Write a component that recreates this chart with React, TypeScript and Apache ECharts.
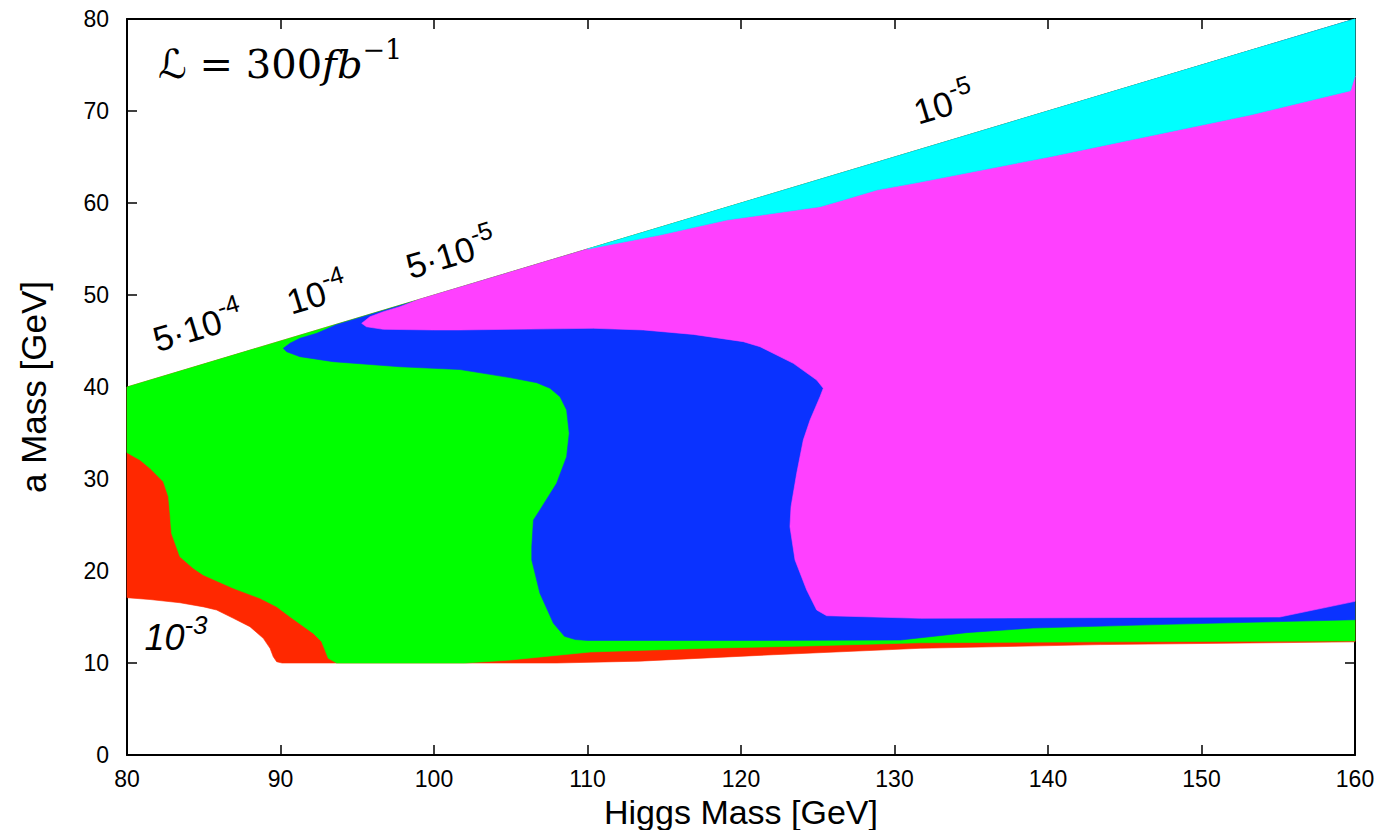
import React, { useEffect, useRef } from "react";
import * as echarts from "echarts";

type P = [number, number];

// Axis ranges / ticks
const xRange: P = [80, 160];
const yRange: P = [0, 80];
const tickStep = 10;

// Kinematic limit m_a = m_h / 2 (upper edge of every region)
const kinLimit: P[] = [[80, 40], [110, 55], [160, 80]];

// 10^-3 (red) region: lower boundary, left -> right
const redLower: P[] = [
  [80, 17.1], [81.5, 16.9], [83.45, 16.55], [85, 16.1], [85.84, 15.76], [86.93, 14.86],
  [88.01, 13.95], [88.88, 12.68], [89.32, 11.59], [89.53, 10.68], [89.75, 10.14], [90.1, 10.0],
  [100, 10.0], [108, 10.0], [113.4, 10.2], [122.1, 10.9], [131.7, 11.6], [143.4, 12.0], [160, 12.3],
];

// 5·10^-4 (green) region: left boundary top -> bottom, then bottom boundary left -> right
const greenLeft: P[] = [
  [80, 32.86], [80.85, 32.07], [81.5, 31.16], [82.37, 29.7], [82.7, 28.08], [82.8, 26.27],
  [82.9, 24.1], [83.45, 21.56], [84.32, 20.29], [84.97, 19.57], [86.93, 18.12], [88.67, 17.03],
  [89.75, 16.12], [90.62, 15.03], [92.14, 13.22], [92.68, 12.32], [92.9, 11.41], [93.11, 10.51],
  [93.66, 10.0],
];
const greenBottom: P[] = [
  [102, 10.0], [104.8, 10.3], [110.2, 11.2], [117.8, 11.6], [124.3, 11.85], [131.7, 12.2],
  [143.4, 12.3], [160, 12.4],
];

// 10^-4 (blue) region: tip -> kinematic limit, then bottom boundary right -> left
const blueTip: P[] = [[90.18, 44.2], [90.62, 44.75], [91.27, 45.29], [92.36, 45.83], [93.6, 46.75]];
const blueBottom: P[] = [
  [160, 14.7], [147.7, 14.2], [139, 13.8], [134.7, 13.3], [130.4, 12.5], [120, 12.45], [110, 12.45],
  [109.2, 12.55], [108.5, 12.9], [107.78, 14.31], [106.9, 17.58], [106.37, 21.2], [106.37, 22.64],
  [106.48, 25.54], [106.9, 26.63], [107.99, 29.53], [108.64, 32.42], [108.81, 34.96], [108.64, 37.5],
  [108.21, 38.95], [107.56, 39.86], [106.69, 40.47], [104.95, 41.02], [101.69, 41.9], [97.78, 42.2],
  [93.44, 42.75], [91.27, 43.3], [90.4, 43.84],
];

// 5·10^-5 (magenta) region
const magentaTip: P[] = [[95.29, 46.92], [95.83, 47.64], [96.7, 48.18], [97.78, 48.73], [99, 49.5]];
const magentaUpper: P[] = [
  [110, 55], [114.72, 56.52], [119.07, 58.15], [125.15, 59.6], [126.67, 60.33], [128.84, 61.41],
  [131.6, 62.25], [140.15, 65.04], [153.18, 69.57], [159.7, 72.2], [160, 73.8],
];
const magentaLower: P[] = [
  [160, 16.7], [155.1, 15.0], [131.7, 14.86], [125.58, 15.14], [124.93, 15.76], [124.28, 17.93],
  [123.52, 21.2], [123.19, 24.82], [123.26, 26.99], [123.63, 30.62], [124.06, 34.24], [124.5, 36.41],
  [125.15, 38.95], [125.36, 39.86], [124.93, 40.76], [123.41, 42.57], [121.24, 44.38], [120.15, 44.93],
  [116.89, 45.72], [113.64, 46.2], [110.38, 46.38], [101.69, 46.2], [99.96, 46.2], [96.7, 46.27],
  [95.6, 46.55],
];

const colors = {
  red: "#ff2800",
  green: "#00ff00",
  blue: "#0a32ff",
  magenta: "#ff40ff",
  cyan: "#00ffff",
};

const top = kinLimit[kinLimit.length - 1];
const leftTop = kinLimit[0];

const redPoly: P[] = [...redLower, top, leftTop];
const greenPoly: P[] = [leftTop, top, ...greenBottom.slice().reverse(), ...greenLeft.slice().reverse()];
const bluePoly: P[] = [...blueTip, top, ...blueBottom];
const magentaPoly: P[] = [...magentaTip, ...magentaUpper, ...magentaLower];
const cyanPoly: P[] = [kinLimit[1], top, ...magentaUpper.slice().reverse()];

function polySeries(name: string, pts: P[], color: string) {
  return {
    type: "custom",
    name,
    coordinateSystem: "cartesian2d",
    xAxisIndex: 0,
    yAxisIndex: 0,
    silent: true,
    data: [pts[0]],
    renderItem: (_params: any, api: any) => ({
      type: "polygon",
      shape: { points: pts.map((p) => api.coord(p)) },
      style: { fill: color, stroke: color, lineWidth: 0.6 },
    }),
  };
}

const SANS = "Liberation Sans, Arial, Helvetica, sans-serif";
const SERIF = "DejaVu Serif, DejaVu Sans, serif";
const ROT = Math.atan((40 * 736) / 80 / 1228);

function regionLabel(x: number, y: number, base: string, sup: string, rotation: number, italic = false) {
  return {
    type: "text",
    x,
    y,
    rotation,
    silent: true,
    style: {
      text: `{b|${base}}{s|${sup}}`,
      align: "center",
      verticalAlign: "middle",
      fill: "#000",
      rich: {
        b: { fontSize: italic ? 36 : 35, fontFamily: SANS, fontStyle: italic ? "italic" : "normal", lineHeight: 50, fill: "#000" },
        s: { fontSize: italic ? 26 : 25, fontFamily: SANS, fontStyle: italic ? "italic" : "normal", lineHeight: 25, verticalAlign: "top", fill: "#000" },
      },
    },
  };
}

export default function App() {
  const ref = useRef<HTMLDivElement>(null);

  useEffect(() => {
    if (!ref.current) return;
    const chart = echarts.init(ref.current, null, { renderer: "svg" });
    const axisLine = { show: true, onZero: false, lineStyle: { color: "#000", width: 2 } };
    const axisTick = { show: true, inside: true, length: 10, lineStyle: { color: "#000", width: 1.5 } };
    const labelStyle = { color: "#000", fontSize: 23, fontFamily: SANS };

    chart.setOption({
      animation: false,
      backgroundColor: "#fff",
      grid: { left: 127, right: 22, top: 19, bottom: 75, containLabel: false, outerBoundsMode: "none" },
      xAxis: [
        {
          type: "value", min: xRange[0], max: xRange[1], interval: tickStep, position: "bottom",
          axisLine, axisTick, splitLine: { show: false },
          axisLabel: { ...labelStyle, margin: 12 },
          name: "Higgs Mass [GeV]", nameLocation: "middle", nameGap: 31,
          nameTextStyle: { fontSize: 34, fontFamily: SANS, color: "#000" },
        },
        {
          type: "value", min: xRange[0], max: xRange[1], interval: tickStep, position: "top",
          axisLine, axisTick, splitLine: { show: false }, axisLabel: { show: false },
        },
      ],
      yAxis: [
        {
          type: "value", min: yRange[0], max: yRange[1], interval: tickStep, position: "left",
          axisLine, axisTick, splitLine: { show: false },
          axisLabel: { ...labelStyle, margin: 18 },
          name: "a Mass [GeV]", nameLocation: "middle", nameGap: 76,
          nameTextStyle: { fontSize: 35, fontFamily: SANS, color: "#000" },
        },
        {
          type: "value", min: yRange[0], max: yRange[1], interval: tickStep, position: "right",
          axisLine, axisTick, splitLine: { show: false }, axisLabel: { show: false },
        },
      ],
      series: [
        polySeries("10^-3", redPoly, colors.red),
        polySeries("5·10^-4", greenPoly, colors.green),
        polySeries("10^-4", bluePoly, colors.blue),
        polySeries("5·10^-5", magentaPoly, colors.magenta),
        polySeries("10^-5", cyanPoly, colors.cyan),
      ],
      graphic: {
        elements: [
          {
            type: "text",
            x: 158,
            y: 64,
            silent: true,
            style: {
              text: "{a|ℒ = 300}{i|fb}{s|−1}",
              align: "left",
              verticalAlign: "middle",
              fill: "#000",
              rich: {
                a: { fontSize: 40, fontFamily: SERIF, lineHeight: 56, fill: "#000" },
                i: { fontSize: 40, fontFamily: SERIF, fontStyle: "italic", lineHeight: 56, fill: "#000" },
                s: { fontSize: 27, fontFamily: SERIF, lineHeight: 27, verticalAlign: "top", fill: "#000" },
              },
            },
          },
          regionLabel(198, 327, "5·10", "-4", ROT),
          regionLabel(317, 294, "10", "-4", ROT),
          regionLabel(451, 254, "5·10", "-5", ROT),
          regionLabel(944, 104, "10", "-5", ROT),
          regionLabel(176, 637, "10", "-3", 0, true),
        ],
      },
    });
    return () => chart.dispose();
  }, []);

  return (
    <div
      ref={ref}
      style={{ position: "fixed", left: 0, top: 0, width: 1377, height: 830, background: "#fff" }}
    />
  );
}
